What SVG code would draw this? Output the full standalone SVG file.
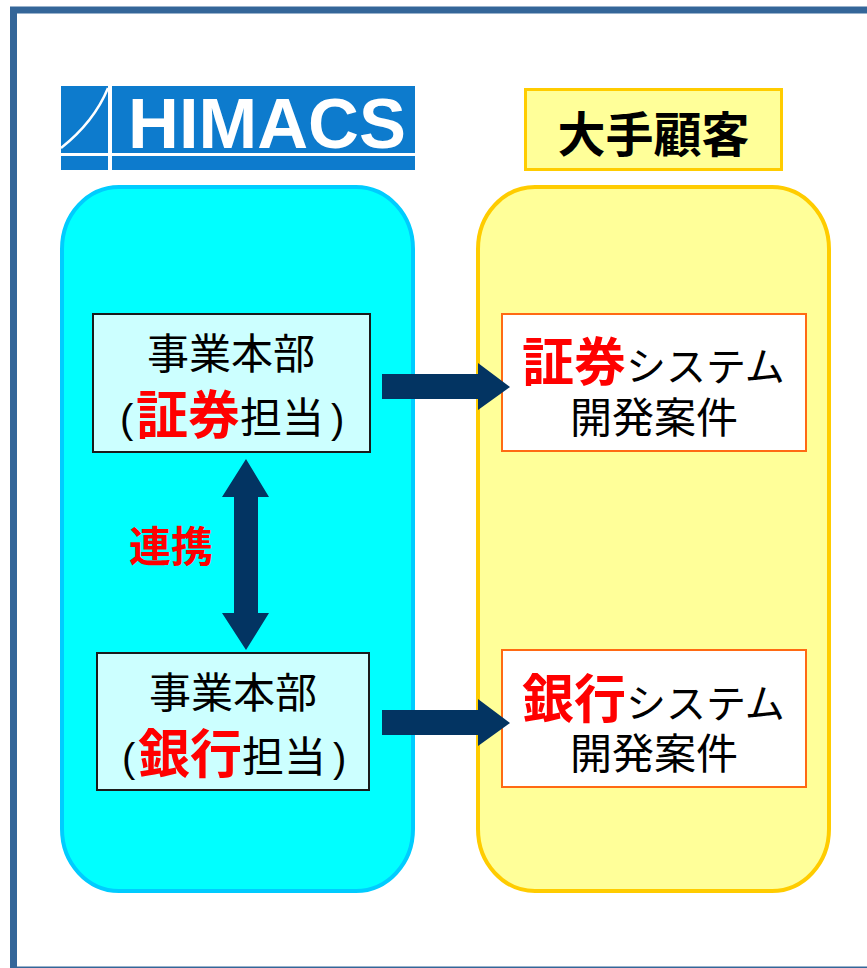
<svg xmlns="http://www.w3.org/2000/svg" width="867" height="968" viewBox="0 0 867 968">
<style>
.cjk{font-family:"Noto Sans CJK JP","Noto Sans CJK SC",sans-serif}
.blk{fill:#000}
.red{fill:#ff0000;font-weight:bold}
.par{font-family:"Liberation Sans",Arial,sans-serif;font-size:40px;fill:#000}
.unit{fill:#ccffff;stroke:#1a1a1a;stroke-width:2}
.sys{fill:#ffffff;stroke:#ff6a13;stroke-width:2}
.arrow{fill:#033462}
</style>
<rect width="867" height="968" fill="#ffffff"/>
<rect x="13.5" y="10" width="1000" height="960" fill="none" stroke="#346699" stroke-width="7"/>

<g id="logo">
<rect x="61" y="86" width="354" height="84" fill="#0d7bcd"/>
<rect x="61" y="153" width="354" height="3" fill="#ffffff"/>
<rect x="108" y="86" width="4" height="84" fill="#ffffff"/>
<path d="M61,148 Q94,122 108,88" fill="none" stroke="#ffffff" stroke-width="2.5"/>
<text x="128" y="148" font-family="Liberation Sans, Arial, sans-serif" font-weight="bold" font-size="71" fill="#ffffff" textLength="278" lengthAdjust="spacingAndGlyphs">HIMACS</text>
</g>

<g id="himacs-group">
<rect x="62" y="187" width="351" height="704" rx="57" ry="62" fill="#00ffff" stroke="#00ccff" stroke-width="4"/>
</g>

<g id="client-group">
<rect x="478" y="187" width="351" height="704" rx="57" ry="62" fill="#ffff99" stroke="#ffcc00" stroke-width="4"/>
</g>

<g id="client-title">
<rect x="525.5" y="89.5" width="256" height="80" fill="#ffff99" stroke="#ffcc00" stroke-width="3"/>
<text class="cjk" x="653.5" y="152" font-size="48" font-weight="bold" text-anchor="middle" fill="#000">大手顧客</text>
</g>

<g id="unit-securities">
<rect class="unit" x="93" y="314" width="277" height="138"/>
<text class="cjk blk" x="231" y="369" font-size="42" text-anchor="middle">事業本部</text>
<text class="cjk blk" y="433" font-size="42"><tspan class="par" x="120">(</tspan><tspan class="red" x="136" y="434" font-size="52">証券</tspan><tspan x="240" y="433">担当</tspan><tspan class="par" x="331">)</tspan></text>
</g>

<g id="unit-banking">
<rect class="unit" x="97" y="653" width="272" height="137"/>
<text class="cjk blk" x="233" y="708" font-size="42" text-anchor="middle">事業本部</text>
<text class="cjk blk" y="772" font-size="42"><tspan class="par" x="122">(</tspan><tspan class="red" x="138" y="773" font-size="52">銀行</tspan><tspan x="242" y="772">担当</tspan><tspan class="par" x="333">)</tspan></text>
</g>

<g id="renkei-label">
<text class="cjk red" x="129" y="562" font-size="42">連携</text>
</g>

<g id="sys-securities">
<rect class="sys" x="502" y="314" width="304" height="137"/>
<text class="cjk blk" font-size="40"><tspan class="red" x="522" y="381" font-size="52">証券</tspan><tspan>システム</tspan><tspan x="570" y="433" font-size="42">開発案件</tspan></text>
</g>

<g id="sys-banking">
<rect class="sys" x="502" y="650" width="304" height="137"/>
<text class="cjk blk" font-size="40"><tspan class="red" x="522" y="718" font-size="52">銀行</tspan><tspan>システム</tspan><tspan x="570" y="769" font-size="42">開発案件</tspan></text>
</g>

<g id="connectors">
<path class="arrow" d="M382,374 H478 V363 L510,387 L478,410 V399 H382 Z"/>
<path class="arrow" d="M382,710 H478 V699 L510,723 L478,746 V735 H382 Z"/>
<path class="arrow" d="M246,459 L269,497 H258 V613 H269 L246,650 L222,613 H234 V497 H222 Z"/>
</g>
</svg>
